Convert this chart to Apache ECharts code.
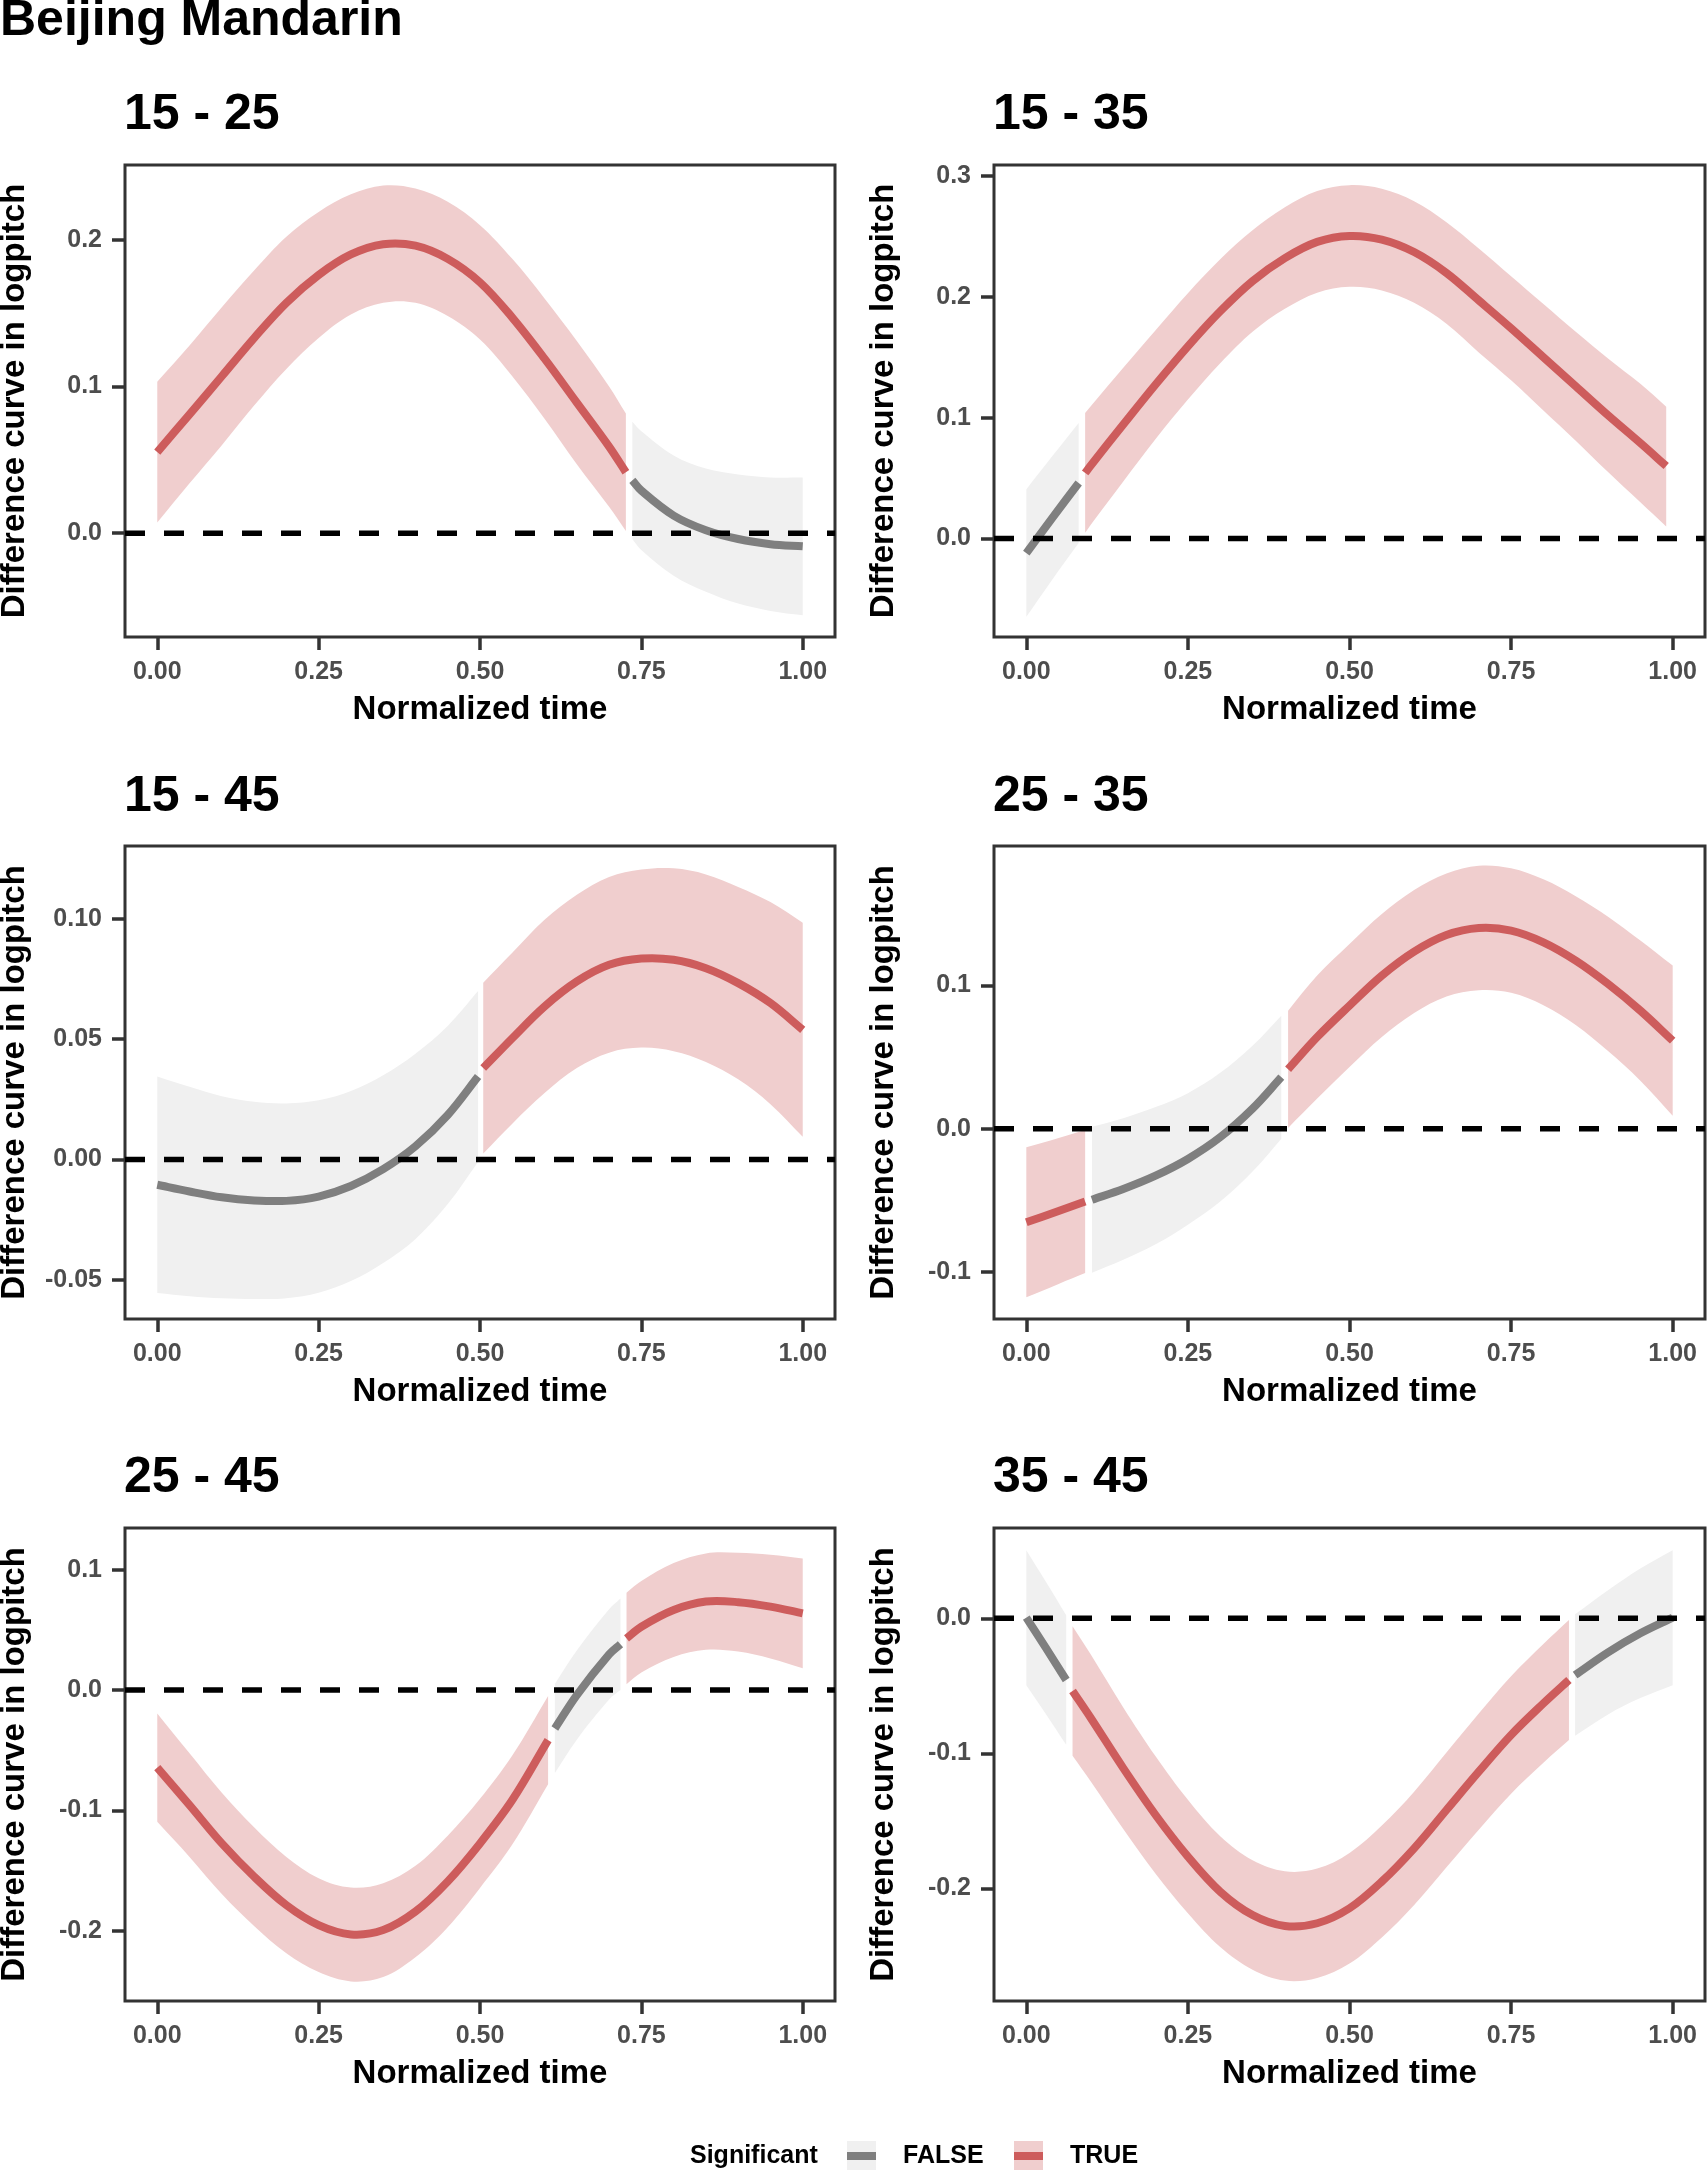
<!DOCTYPE html>
<html><head><meta charset="utf-8">
<script src="https://cdn.jsdelivr.net/npm/echarts@6/dist/echarts.min.js"></script>
<style>html,body{margin:0;padding:0;background:#fff}#chart{width:1707px;height:2170px}</style>
</head><body><div id="chart"></div>
<script>
// ---------- data ----------
const xTicks = [0, 0.25, 0.5, 0.75, 1];

// 15 - 25
const t_15_25   = [0,0.05,0.10,0.15,0.20,0.25,0.30,0.35,0.40,0.45,0.50,0.55,0.60,0.65,0.70,0.726,0.736,0.75,0.80,0.85,0.90,0.95,1.00];
const fit_15_25 = [0.0553,0.081,0.107,0.133,0.157,0.176,0.190,0.197,0.196,0.187,0.171,0.147,0.119,0.089,0.059,0.0415,0.036,0.029,0.012,0.002,-0.004,-0.0075,-0.009];
const lo_15_25  = [0.0073,0.034,0.060,0.087,0.112,0.133,0.149,0.157,0.157,0.148,0.132,0.107,0.078,0.047,0.018,0.0015,-0.004,-0.0115,-0.029,-0.040,-0.048,-0.053,-0.056];
const hi_15_25  = [0.1033,0.128,0.154,0.179,0.202,0.219,0.231,0.237,0.235,0.226,0.210,0.187,0.160,0.131,0.100,0.0815,0.076,0.0695,0.053,0.044,0.040,0.038,0.038];
const sig_15_25 = [1,1,1,1,1,1,1,1,1,1,1,1,1,1,1,1,0,0,0,0,0,0,0];
const yTicks_15_25 = [0, 0.1, 0.2];
const yRange_15_25 = [-0.0708, 0.251];

// 15 - 35
const t_15_35   = [0,0.04,0.081,0.091,0.10,0.15,0.20,0.25,0.30,0.35,0.40,0.45,0.50,0.55,0.60,0.65,0.70,0.75,0.80,0.85,0.90,0.95,0.99];
const fit_15_35 = [-0.012,0.017,0.046,0.0543,0.0607,0.0943,0.1274,0.159,0.188,0.213,0.232,0.2454,0.2503,0.2473,0.237,0.2197,0.197,0.174,0.150,0.126,0.102,0.079,0.060];
const lo_15_35  = [-0.0647,-0.034,-0.0037,0.0048,0.0117,0.0473,0.0824,0.115,0.145,0.171,0.190,0.2034,0.2083,0.2053,0.195,0.1777,0.154,0.131,0.106,0.081,0.055,0.030,0.010];
const hi_15_35  = [0.0407,0.068,0.0957,0.1038,0.1097,0.1413,0.1724,0.203,0.231,0.255,0.274,0.2874,0.2923,0.2893,0.279,0.2617,0.240,0.217,0.194,0.171,0.149,0.128,0.109];
const sig_15_35 = [0,0,0,1,1,1,1,1,1,1,1,1,1,1,1,1,1,1,1,1,1,1,1];
const yTicks_15_35 = [0, 0.1, 0.2, 0.3];
const yRange_15_35 = [-0.0814, 0.309];

// 15 - 45
const t_15_45   = [0,0.05,0.10,0.15,0.20,0.25,0.30,0.35,0.40,0.45,0.497,0.505,0.55,0.60,0.65,0.70,0.75,0.80,0.85,0.90,0.95,1.00];
const fit_15_45 = [-0.0105,-0.0133,-0.0157,-0.0170,-0.0172,-0.0154,-0.0110,-0.0040,0.0055,0.0185,0.0345,0.0380,0.0504,0.0636,0.0740,0.0809,0.0835,0.0830,0.0795,0.0733,0.0650,0.0539];
const lo_15_45  = [-0.0555,-0.0568,-0.0577,-0.0580,-0.0577,-0.0554,-0.0505,-0.043,-0.033,-0.0185,-0.0010,0.0025,0.0149,0.0276,0.0380,0.0444,0.0465,0.0450,0.0405,0.0333,0.0230,0.0094];
const hi_15_45  = [0.0345,0.0302,0.0263,0.0240,0.0233,0.0246,0.0285,0.035,0.044,0.0555,0.0700,0.0735,0.0859,0.0996,0.1100,0.1174,0.1205,0.1210,0.1185,0.1133,0.1070,0.0984];
const sig_15_45 = [0,0,0,0,0,0,0,0,0,0,0,1,1,1,1,1,1,1,1,1,1,1];
const yTicks_15_45 = [-0.05, 0, 0.05, 0.10];
const yRange_15_45 = [-0.0663, 0.1303];

// 25 - 35
const t_25_35   = [0,0.05,0.091,0.1016,0.15,0.20,0.25,0.30,0.35,0.3945,0.405,0.45,0.50,0.55,0.60,0.65,0.70,0.75,0.80,0.85,0.90,0.95,1.00];
const fit_25_35 = [-0.0655,-0.0576,-0.051,-0.0497,-0.0422,-0.0329,-0.0212,-0.0060,0.0140,0.0360,0.0415,0.0640,0.0860,0.1070,0.1238,0.1354,0.1403,0.1385,0.1303,0.1175,0.1012,0.0825,0.0615];
const lo_25_35  = [-0.1179,-0.1086,-0.101,-0.1007,-0.0917,-0.0809,-0.0672,-0.0510,-0.0300,-0.0070,0.0005,0.0210,0.0430,0.0640,0.0808,0.0924,0.0968,0.0950,0.0863,0.0725,0.0542,0.0335,0.0090];
const hi_25_35  = [-0.0131,-0.0066,-0.001,0.0013,0.0073,0.0151,0.0248,0.0390,0.0580,0.0790,0.0825,0.1070,0.1290,0.1500,0.1668,0.1784,0.1838,0.1820,0.1743,0.1625,0.1482,0.1315,0.1140];
const sig_25_35 = [1,1,1,0,0,0,0,0,0,0,1,1,1,1,1,1,1,1,1,1,1,1,1];
const yTicks_25_35 = [-0.1, 0, 0.1];
const yRange_25_35 = [-0.1331, 0.1976];

// 25 - 45
const t_25_45   = [0,0.05,0.10,0.15,0.20,0.25,0.30,0.35,0.40,0.45,0.50,0.55,0.6055,0.616,0.65,0.70,0.7176,0.727,0.75,0.80,0.85,0.90,0.95,1.00];
const fit_25_45 = [-0.0645,-0.0956,-0.1274,-0.1550,-0.1787,-0.1953,-0.2030,-0.1994,-0.1840,-0.1590,-0.1274,-0.0914,-0.0416,-0.0319,-0.0042,0.0296,0.0380,0.0429,0.0526,0.0665,0.0735,0.0730,0.0693,0.0637];
const lo_25_45  = [-0.1095,-0.1386,-0.1694,-0.1960,-0.2187,-0.2343,-0.2420,-0.2384,-0.2220,-0.1970,-0.1644,-0.1284,-0.0783,-0.0689,-0.0412,-0.0079,0.0000,0.0049,0.0146,0.0275,0.0335,0.0320,0.0263,0.0182];
const hi_25_45  = [-0.0195,-0.0526,-0.0854,-0.1140,-0.1387,-0.1563,-0.1640,-0.1604,-0.1460,-0.1210,-0.0904,-0.0544,-0.0049,0.0051,0.0328,0.0671,0.0760,0.0809,0.0906,0.1055,0.1135,0.1140,0.1123,0.1092];
const sig_25_45 = [1,1,1,1,1,1,1,1,1,1,1,1,1,0,0,0,0,1,1,1,1,1,1,1];
const yTicks_25_45 = [-0.2, -0.1, 0, 0.1];
const yRange_25_45 = [-0.2583, 0.1346];

// 35 - 45
const t_35_45   = [0,0.03,0.0617,0.0715,0.10,0.15,0.20,0.25,0.30,0.35,0.40,0.45,0.50,0.55,0.60,0.65,0.70,0.75,0.80,0.8395,0.849,0.90,0.95,1.00];
const fit_35_45 = [0.0005,-0.0217,-0.0457,-0.0538,-0.0740,-0.1110,-0.1457,-0.1765,-0.2025,-0.2198,-0.2279,-0.2259,-0.2148,-0.1950,-0.1704,-0.1420,-0.1136,-0.0864,-0.0630,-0.0457,-0.0420,-0.0252,-0.0111,0.0005];
const lo_35_45  = [-0.0495,-0.0707,-0.0937,-0.1018,-0.1210,-0.1560,-0.1892,-0.2185,-0.2435,-0.2603,-0.2684,-0.2664,-0.2558,-0.2365,-0.2124,-0.1845,-0.1566,-0.1299,-0.1070,-0.0902,-0.0870,-0.0712,-0.0591,-0.0495];
const hi_35_45  = [0.0505,0.0273,0.0023,-0.0058,-0.0270,-0.0660,-0.1022,-0.1345,-0.1615,-0.1793,-0.1874,-0.1854,-0.1738,-0.1535,-0.1284,-0.0995,-0.0706,-0.0429,-0.0190,-0.0012,0.0030,0.0208,0.0369,0.0505];
const sig_35_45 = [0,0,0,1,1,1,1,1,1,1,1,1,1,1,1,1,1,1,1,1,0,0,0,0];
const yTicks_35_45 = [-0.2, -0.1, 0];
const yRange_35_45 = [-0.2835, 0.0669];

// ---------- build ----------
const FONT = '"Liberation Sans", Arial, Helvetica, sans-serif';
const RED = '#cd5c5c', GRAY = '#7f7f7f', PINK = '#f0cece', LIGHT = '#f0f0f0';

const panels = [
  {title:'15 - 25', t:t_15_25, fit:fit_15_25, lo:lo_15_25, hi:hi_15_25, sig:sig_15_25, ticks:yTicks_15_25, yr:yRange_15_25, dec:1},
  {title:'15 - 35', t:t_15_35, fit:fit_15_35, lo:lo_15_35, hi:hi_15_35, sig:sig_15_35, ticks:yTicks_15_35, yr:yRange_15_35, dec:1},
  {title:'15 - 45', t:t_15_45, fit:fit_15_45, lo:lo_15_45, hi:hi_15_45, sig:sig_15_45, ticks:yTicks_15_45, yr:yRange_15_45, dec:2},
  {title:'25 - 35', t:t_25_35, fit:fit_25_35, lo:lo_25_35, hi:hi_25_35, sig:sig_25_35, ticks:yTicks_25_35, yr:yRange_25_35, dec:1},
  {title:'25 - 45', t:t_25_45, fit:fit_25_45, lo:lo_25_45, hi:hi_25_45, sig:sig_25_45, ticks:yTicks_25_45, yr:yRange_25_45, dec:1},
  {title:'35 - 45', t:t_35_45, fit:fit_35_45, lo:lo_35_45, hi:hi_35_45, sig:sig_35_45, ticks:yTicks_35_45, yr:yRange_35_45, dec:1}
];

const colLeft = [125, 994], colWidth = [710, 711];
const rowTop = [165, 846, 1528], rowHeight = [472, 473, 473];
const titleY = [115, 797, 1478];

const grids = [], xAxes = [], yAxes = [], series = [], graphics = [];

function runs(sig) {
  const r = []; let s = 0;
  for (let i = 1; i <= sig.length; i++) {
    if (i === sig.length || sig[i] !== sig[s]) { r.push([s, i - 1]); s = i; }
  }
  return r;
}

// smooth bezier through pixel points (tension like zrender smoothBezier, no clamping)
const SMOOTH = 0.35;
function curveCmds(pts, moveFirst) {
  const n = pts.length;
  const cpA = [], cpB = [];
  for (let i = 0; i < n; i++) {
    const p = pts[i], pr = pts[i - 1] || p, nx = pts[i + 1] || p;
    const vx = (nx[0] - pr[0]) * SMOOTH, vy = (nx[1] - pr[1]) * SMOOTH;
    let d0 = Math.hypot(p[0] - pr[0], p[1] - pr[1]), d1 = Math.hypot(nx[0] - p[0], nx[1] - p[1]);
    const sum = d0 + d1; if (sum) { d0 /= sum; d1 /= sum; }
    cpB.push([p[0] - vx * d0, p[1] - vy * d0]);
    cpA.push([p[0] + vx * d1, p[1] + vy * d1]);
  }
  let d = (moveFirst ? 'M' : 'L') + pts[0][0] + ',' + pts[0][1];
  for (let i = 1; i < n; i++) {
    d += 'C' + cpA[i - 1][0] + ',' + cpA[i - 1][1] + ' ' + cpB[i][0] + ',' + cpB[i][1] + ' ' + pts[i][0] + ',' + pts[i][1];
  }
  return d;
}

panels.forEach((p, i) => {
  const c = i % 2, r = Math.floor(i / 2);
  grids.push({left: colLeft[c], top: rowTop[r], width: colWidth[c], height: rowHeight[r],
    show: true, borderColor: '#333333', borderWidth: 3, backgroundColor: 'transparent',
    containLabel: false, outerBoundsMode: 'none'});
  xAxes.push({type: 'value', gridIndex: i, min: -0.05, max: 1.05, position: 'bottom',
    axisLine: {show: false, onZero: false}, splitLine: {show: false},
    axisTick: {show: true, length: 13, customValues: xTicks, lineStyle: {color: '#333333', width: 3.5}},
    axisLabel: {customValues: xTicks, formatter: v => Number(v).toFixed(2), color: '#4d4d4d',
      fontSize: 25, fontWeight: 'bold', fontFamily: FONT, margin: 23},
    name: 'Normalized time', nameLocation: 'middle', nameGap: 56,
    nameTextStyle: {color: '#000', fontSize: 33, fontWeight: 'bold', fontFamily: FONT}});
  yAxes.push({type: 'value', gridIndex: i, min: p.yr[0], max: p.yr[1], position: 'left',
    axisLine: {show: false, onZero: false}, splitLine: {show: false},
    axisTick: {show: true, length: 13, customValues: p.ticks, lineStyle: {color: '#333333', width: 3.5}},
    axisLabel: {customValues: p.ticks, formatter: v => Number(v).toFixed(p.dec), color: '#4d4d4d',
      fontSize: 25, fontWeight: 'bold', fontFamily: FONT, margin: 23},
    name: 'Difference curve in logpitch', nameLocation: 'middle', nameGap: 94,
    nameTextStyle: {color: '#000', fontSize: 33, fontWeight: 'bold', fontFamily: FONT}});

  const segs = runs(p.sig);
  // confidence ribbons
  segs.forEach(([a, b]) => {
    const isSig = p.sig[a] === 1;
    series.push({type: 'custom', coordinateSystem: 'cartesian2d', xAxisIndex: i, yAxisIndex: i,
      silent: true, animation: false, z: 1,
      data: [[p.t[a], p.fit[a]]],
      renderItem: function (params, api) {
        const up = [], dn = [];
        for (let k = a; k <= b; k++) up.push(api.coord([p.t[k], p.hi[k]]));
        for (let k = b; k >= a; k--) dn.push(api.coord([p.t[k], p.lo[k]]));
        const d = curveCmds(up, true) + curveCmds(dn, false) + 'Z';
        return {type: 'path', shape: {pathData: d}, style: {fill: isSig ? PINK : LIGHT, stroke: null}};
      }});
  });
  // fitted difference curve
  segs.forEach(([a, b]) => {
    const isSig = p.sig[a] === 1;
    series.push({type: 'custom', coordinateSystem: 'cartesian2d', xAxisIndex: i, yAxisIndex: i,
      silent: true, animation: false, z: 3,
      data: [[p.t[a], p.fit[a]]],
      renderItem: function (params, api) {
        const pts = [];
        for (let k = a; k <= b; k++) pts.push(api.coord([p.t[k], p.fit[k]]));
        return {type: 'path', shape: {pathData: curveCmds(pts, true)},
          style: {fill: null, stroke: isSig ? RED : GRAY, lineWidth: 8, lineCap: 'butt', lineJoin: 'round'}};
      }});
  });
  // zero reference line
  series.push({type: 'line', xAxisIndex: i, yAxisIndex: i, symbol: 'none', silent: true, animation: false,
    data: [[-0.05, 0], [1.05, 0]], lineStyle: {color: '#000', width: 5.5, type: [20, 19]}, z: 5});

  graphics.push({type: 'text', x: colLeft[c] - 1, y: titleY[r],
    style: {text: p.title, fontSize: 50, fontWeight: 'bold', fontFamily: FONT, fill: '#000',
      align: 'left', verticalAlign: 'middle'}});
});

// overall title
graphics.push({type: 'text', x: 0, y: 21,
  style: {text: 'Beijing Mandarin', fontSize: 50, fontWeight: 'bold', fontFamily: FONT, fill: '#000',
    align: 'left', verticalAlign: 'middle'}});

// legend
const legY = 2156;
graphics.push({type: 'text', x: 690, y: legY, style: {text: 'Significant', fontSize: 25, fontWeight: 'bold',
  fontFamily: FONT, fill: '#000', align: 'left', verticalAlign: 'middle'}});
[[847, LIGHT, GRAY, 'FALSE', 903], [1014, PINK, RED, 'TRUE', 1070]].forEach(([kx, bg, lc, lab, tx]) => {
  graphics.push({type: 'rect', shape: {x: kx, y: legY - 15, width: 29, height: 30}, style: {fill: bg}});
  graphics.push({type: 'line', shape: {x1: kx, y1: legY, x2: kx + 29, y2: legY},
    style: {stroke: lc, lineWidth: 8}});
  graphics.push({type: 'text', x: tx, y: legY, style: {text: lab, fontSize: 25, fontWeight: 'bold',
    fontFamily: FONT, fill: '#000', align: 'left', verticalAlign: 'middle'}});
});

const chart = echarts.init(document.getElementById('chart'), null, {renderer: 'canvas', width: 1707, height: 2170});
chart.setOption({
  animation: false,
  backgroundColor: '#ffffff',
  grid: grids, xAxis: xAxes, yAxis: yAxes, series: series, graphic: graphics
});
</script>
</body></html>
